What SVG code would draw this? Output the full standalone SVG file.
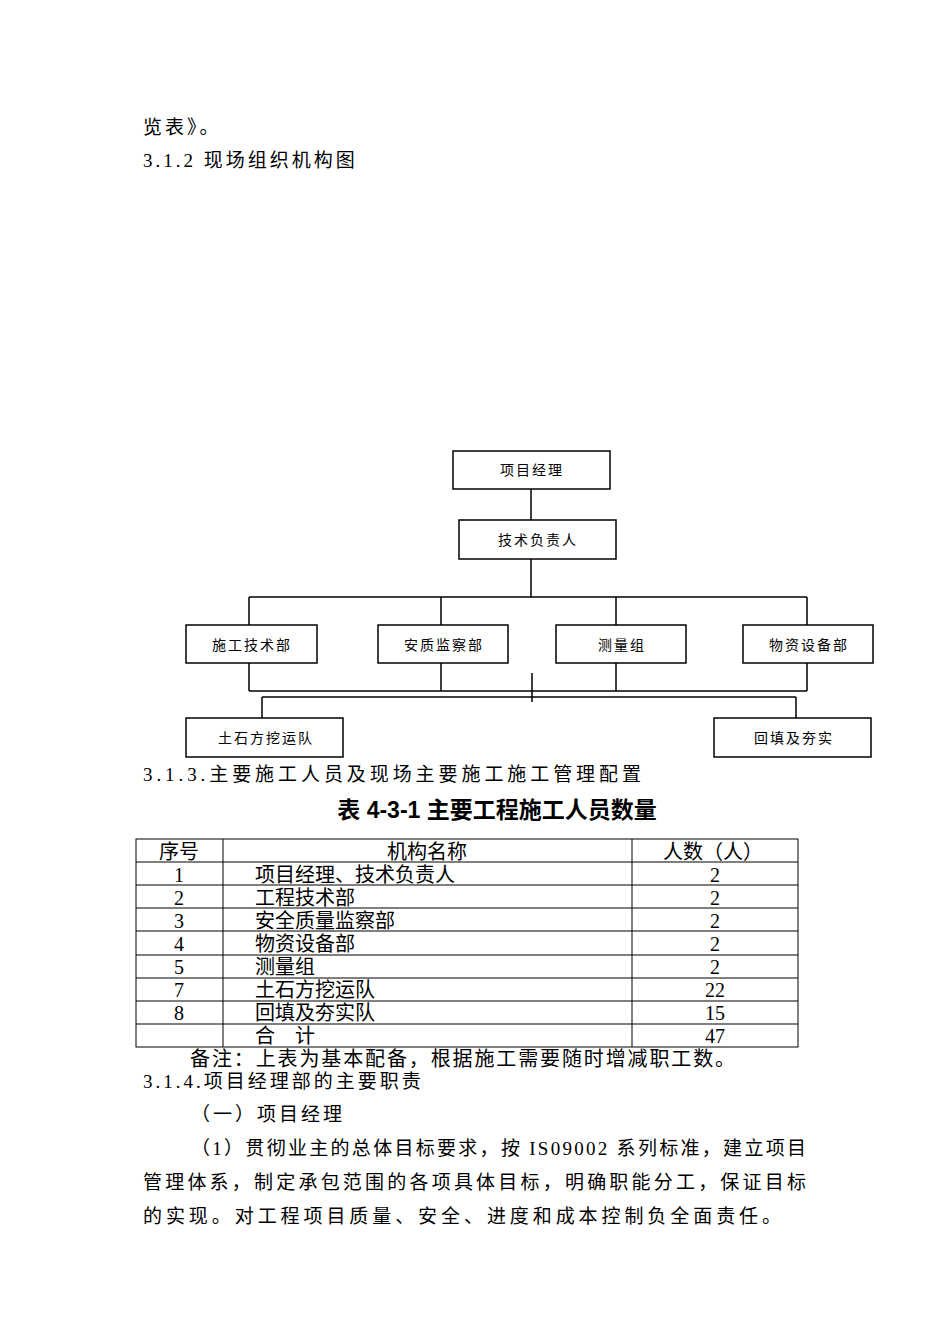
<svg xmlns="http://www.w3.org/2000/svg" width="950" height="1344" viewBox="0 0 950 1344">
<style>
.t{font-family:"Liberation Serif","Noto Sans CJK SC",serif;fill:#000}
.b{font-size:19px;letter-spacing:3px}
.p{font-size:19px}
.n{font-size:14px;text-anchor:middle;letter-spacing:2px}
.r{fill:#fff;stroke:#000;stroke-width:1.5}
.l{stroke:#000;stroke-width:1.5;fill:none}
.g{stroke:#000;stroke-width:1;fill:none}
.c{font-size:20px}
</style>
<rect width="950" height="1344" fill="#fff"/>
<text class="t b" x="143" y="134">览表》。</text>
<text class="t b" x="143" y="167">3.1.2 现场组织机构图</text>
<g id="connectors">
<path class="l" d="M531 489V520M531 559V597M249 597H807M249 597V625M441 597V625M616 597V625M807 597V625M249 663V691M441 663V691M616 663V691M807 663V691M249 691H807M532 673V702M262 697H796M262 697V718M796 697V718"/>
</g>
<g id="n1"><rect class="r" x="453" y="451" width="157" height="38"/><text class="t n" x="532" y="475">项目经理</text></g>
<g id="n2"><rect class="r" x="459" y="520" width="157" height="39"/><text class="t n" x="538" y="545">技术负责人</text></g>
<g id="n3"><rect class="r" x="186" y="625" width="131" height="38"/><text class="t n" x="252" y="650">施工技术部</text></g>
<g id="n4"><rect class="r" x="378" y="625" width="130" height="38"/><text class="t n" x="444" y="650">安质监察部</text></g>
<g id="n5"><rect class="r" x="556" y="625" width="130" height="38"/><text class="t n" x="622" y="650">测量组</text></g>
<g id="n6"><rect class="r" x="743" y="625" width="130" height="38"/><text class="t n" x="809" y="650">物资设备部</text></g>
<g id="n7"><rect class="r" x="186" y="718" width="157" height="39"/><text class="t n" x="266" y="743">土石方挖运队</text></g>
<g id="n8"><rect class="r" x="714" y="718" width="157" height="39"/><text class="t n" x="794" y="743">回填及夯实</text></g>
<text class="t p" x="143" y="781" textLength="498" lengthAdjust="spacing">3.1.3.主要施工人员及现场主要施工施工管理配置</text>
<text class="t" x="497" y="818" font-size="23" font-weight="bold" text-anchor="middle" style="font-family:'Liberation Sans','Noto Sans CJK SC',sans-serif">表 4-3-1 主要工程施工人员数量</text>
<g id="table">
<rect class="g" x="136" y="839" width="662" height="208"/>
<path class="g" d="M223 839V1047M632 839V1047M136 862H798M136 885H798M136 908H798M136 931H798M136 955H798M136 978H798M136 1001H798M136 1024H798"/>
<g class="t c">
<text x="179" y="859" text-anchor="middle">序号</text><text x="427" y="859" text-anchor="middle">机构名称</text><text x="713" y="859" text-anchor="middle">人数（人）</text>
<text x="179" y="882" text-anchor="middle">1</text><text x="255" y="882">项目经理、技术负责人</text><text x="715" y="882" text-anchor="middle">2</text>
<text x="179" y="905" text-anchor="middle">2</text><text x="255" y="905">工程技术部</text><text x="715" y="905" text-anchor="middle">2</text>
<text x="179" y="928" text-anchor="middle">3</text><text x="255" y="928">安全质量监察部</text><text x="715" y="928" text-anchor="middle">2</text>
<text x="179" y="951" text-anchor="middle">4</text><text x="255" y="951">物资设备部</text><text x="715" y="951" text-anchor="middle">2</text>
<text x="179" y="974" text-anchor="middle">5</text><text x="255" y="974">测量组</text><text x="715" y="974" text-anchor="middle">2</text>
<text x="179" y="997" text-anchor="middle">7</text><text x="255" y="997">土石方挖运队</text><text x="715" y="997" text-anchor="middle">22</text>
<text x="179" y="1020" text-anchor="middle">8</text><text x="255" y="1020">回填及夯实队</text><text x="715" y="1020" text-anchor="middle">15</text>
<text x="255" y="1043">合　计</text><text x="715" y="1043" text-anchor="middle">47</text>
</g>
</g>
<text class="t c" x="190" y="1066" textLength="545" lengthAdjust="spacing">备注：上表为基本配备，根据施工需要随时增减职工数。</text>
<text class="t b" x="143" y="1088">3.1.4.项目经理部的主要职责</text>
<text class="t b" x="191" y="1121">（一）项目经理</text>
<text class="t p" x="191" y="1155" textLength="615" lengthAdjust="spacing">（1）贯彻业主的总体目标要求，按 IS09002 系列标准，建立项目</text>
<text class="t p" x="143" y="1189" textLength="663" lengthAdjust="spacing">管理体系，制定承包范围的各项具体目标，明确职能分工，保证目标</text>
<text class="t p" x="143" y="1223" textLength="638" lengthAdjust="spacing">的实现。对工程项目质量、安全、进度和成本控制负全面责任。</text>
</svg>
